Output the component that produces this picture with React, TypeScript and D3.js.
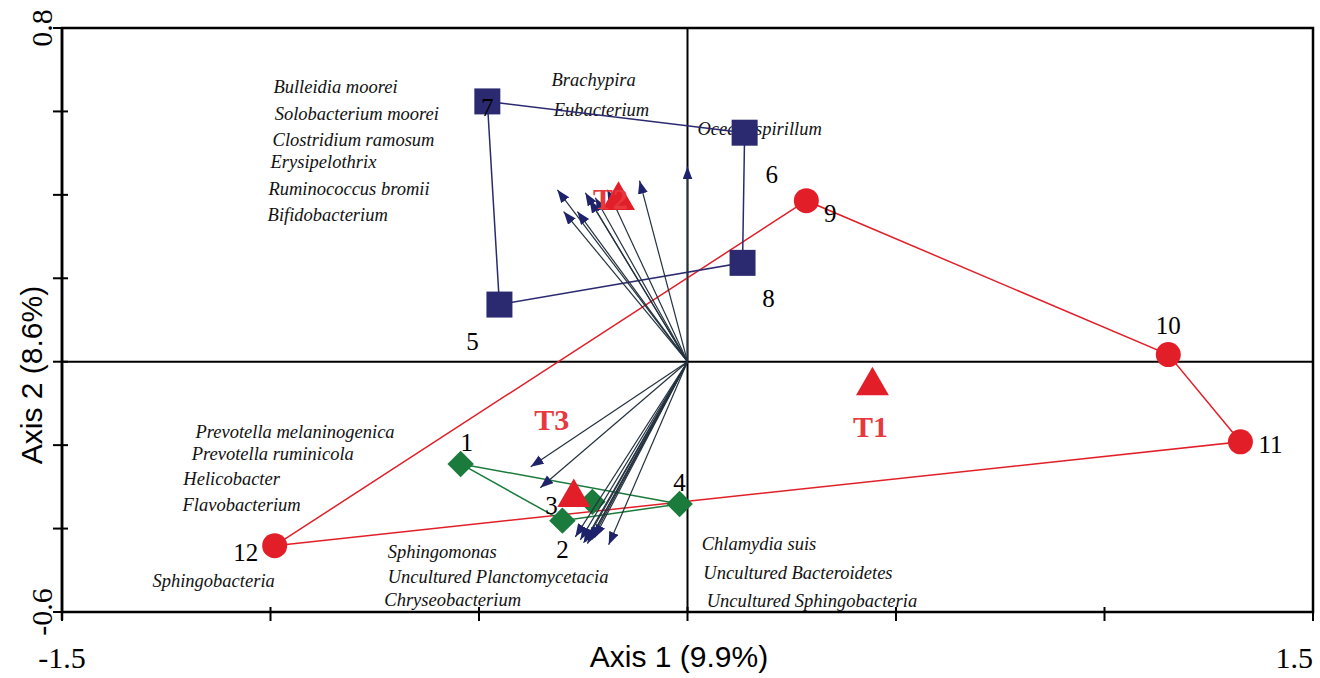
import React from "react";
import * as d3 from "d3";

// ---------- data ----------
const sampleIds = ["1", "2", "3", "4", "5", "6", "7", "8", "9", "10", "11", "12"];
const sampleX = [-0.544, -0.3, -0.228, -0.019, -0.451, 0.137, -0.48, 0.132, 0.285, 1.153, 1.326, -0.99];
const sampleY = [-0.245, -0.381, -0.336, -0.341, 0.137, 0.549, 0.624, 0.237, 0.386, 0.017, -0.192, -0.441];
const sampleGroup = ["T3", "T3", "T3", "T3", "T2", "T2", "T2", "T2", "T1", "T1", "T1", "T1"];
const groups = ["T1", "T2", "T3"];

// species vectors (biplot arrows)
const arrowX = [-0.312, -0.297, -0.264, -0.245, -0.235, -0.221, -0.192, -0.115, 0.0,
  -0.376, -0.353, -0.269, -0.257, -0.249, -0.245, -0.24, -0.235, -0.23, -0.223, -0.189];
const arrowY = [0.412, 0.36, 0.36, 0.405, 0.388, 0.393, 0.412, 0.434, 0.468,
  -0.252, -0.302, -0.42, -0.427, -0.434, -0.432, -0.436, -0.429, -0.427, -0.422, -0.439];

const speciesNames = [
  "Bulleidia moorei", "Solobacterium moorei", "Clostridium ramosum", "Erysipelothrix",
  "Ruminococcus bromii", "Bifidobacterium", "Brachypira", "Eubacterium", "Oceanospirillum",
  "Prevotella melaninogenica", "Prevotella ruminicola", "Helicobacter", "Flavobacterium",
  "Sphingobacteria", "Sphingomonas", "Uncultured Planctomycetacia", "Chryseobacterium",
  "Chlamydia suis", "Uncultured Bacteroidetes", "Uncultured Sphingobacteria",
];
// label anchor positions (in axis units)
const speciesLabelX = [-0.993, -0.99, -0.995, -1.0, -1.005, -1.007, -0.326, -0.321, 0.024,
  -1.18, -1.189, -1.209, -1.211, -1.283, -0.719, -0.719, -0.727, 0.034, 0.038, 0.046];
const speciesLabelY = [0.645, 0.58, 0.516, 0.465, 0.4, 0.338, 0.66, 0.588, 0.544,
  -0.182, -0.235, -0.295, -0.357, -0.54, -0.47, -0.53, -0.585, -0.451, -0.52, -0.588];

const xTicks = [-1.5, -1, -0.5, 0, 0.5, 1, 1.5];
const yTicks = [-0.6, -0.4, -0.2, 0, 0.2, 0.4, 0.6, 0.8];
const xAxisTitle = "Axis 1 (9.9%)";
const yAxisTitle = "Axis 2 (8.6%)";

// ---------- layout / style ----------
const W = 1320, H = 678;
const PL = 62, PR = 1313, PT = 28, PB = 612;
const NAVY = "#2b2a70";
const RED = "#e21f28";
const GREEN = "#1a7b3c";
const ARROW_LINE = "#24323f";
const ARROW_HEAD = "#1f236b";
const SERIF = "'Liberation Serif', 'Times New Roman', serif";
const SANS = "'Liberation Sans', Arial, sans-serif";

const groupColor: Record<string, string> = { T1: RED, T2: NAVY, T3: GREEN };
const groupShape: Record<string, string> = { T1: "circle", T2: "square", T3: "diamond" };
// number-label offsets in px (dx, baseline dy)
const numOffset: Record<string, [number, number]> = {
  "1": [6, -13], "2": [0, 37], "3": [-41, 12], "4": [0, -13],
  "5": [-27, 45], "6": [27, 50], "7": [0, 15], "8": [26, 44],
  "9": [24, 21], "10": [0, -21], "11": [30, 11], "12": [-29, 15],
};
const tLabelOffset: Record<string, [number, number]> = { T1: [-2, 51], T2: [-8, 9], T3: [-22, -68] };

export default function App() {
  const x = d3.scaleLinear().domain([-1.5, 1.5]).range([PL, PR]);
  const y = d3.scaleLinear().domain([-0.6, 0.8]).range([PB, PT]);

  const pts = sampleIds.map((id, i) => ({ id, x: sampleX[i], y: sampleY[i], g: sampleGroup[i] }));

  const squarePath = d3.symbol(d3.symbolSquare, 676)()!;
  const diamondPath = d3.symbol(d3.symbolSquare, 350)()!;
  const trianglePath = d3.symbol(d3.symbolTriangle, 470)()!;

  const hulls = groups.map((g) => {
    const p = pts.filter((d) => d.g === g).map((d) => [x(d.x), y(d.y)] as [number, number]);
    const hull = d3.polygonHull(p)!;
    return { g, d: "M" + hull.map((q) => q.join(",")).join("L") + "Z" };
  });

  const centroids = groups.map((g) => {
    const sel = pts.filter((d) => d.g === g);
    return { g, x: d3.mean(sel, (d) => d.x)!, y: d3.mean(sel, (d) => d.y)! };
  });

  return (
    <svg width={W} height={H} style={{ position: "absolute", left: 0, top: 0, background: "#fff" }}>
      <defs>
        <marker id="ah" markerUnits="userSpaceOnUse" markerWidth={14} markerHeight={11}
          refX={13} refY={5} orient="auto">
          <path d="M0,0 L13,5 L0,10 Z" fill={ARROW_HEAD} />
        </marker>
      </defs>
      <rect x={0} y={0} width={W} height={H} fill="#fff" />

      {/* zero lines */}
      <line x1={x(0)} x2={x(0)} y1={PT} y2={PB} stroke="#000" strokeWidth={2} />
      <line x1={PL} x2={PR} y1={y(0)} y2={y(0)} stroke="#000" strokeWidth={2} />

      {/* frame */}
      <rect x={PL} y={PT} width={PR - PL} height={PB - PT} fill="none" stroke="#000" strokeWidth={2.5} />
      <line x1={PL} x2={PL} y1={PT} y2={PB + 8} stroke="#000" strokeWidth={2.5} />
      {xTicks.map((t) => (
        <line key={"xt" + t} x1={x(t)} x2={x(t)} y1={PB - 5} y2={PB + 9} stroke="#000" strokeWidth={2} />
      ))}
      {yTicks.map((t) => (
        <line key={"yt" + t} x1={PL - 9} x2={PL + 6} y1={y(t)} y2={y(t)} stroke="#000" strokeWidth={2} />
      ))}

      {/* tick labels */}
      <text x={x(-1.5)} y={668} textAnchor="middle" fontFamily={SERIF} fontSize={30}>-1.5</text>
      <text x={x(1.5)} y={668} textAnchor="end" fontFamily={SERIF} fontSize={30}>1.5</text>
      <text transform={`translate(52,${y(0.8)}) rotate(-90)`} textAnchor="middle" fontFamily={SERIF} fontSize={30}>0.8</text>
      <text transform={`translate(52,${y(-0.6)}) rotate(-90)`} textAnchor="middle" fontFamily={SERIF} fontSize={30}>-0.6</text>

      {/* axis titles */}
      <text x={679} y={667} textAnchor="middle" fontFamily={SANS} fontSize={30}>{xAxisTitle}</text>
      <text transform="translate(42,375) rotate(-90)" textAnchor="middle" fontFamily={SANS} fontSize={30}>{yAxisTitle}</text>

      {/* species labels */}
      {speciesNames.map((n, i) => (
        <text key={n} x={x(speciesLabelX[i])} y={y(speciesLabelY[i])} fontFamily={SERIF}
          fontStyle="italic" fontSize={18.5} fill="#111">{n}</text>
      ))}

      {/* hull polygons */}
      {hulls.map((h) => (
        <path key={h.g} d={h.d} fill="none" stroke={groupColor[h.g]} strokeWidth={1.5} />
      ))}

      {/* sample points */}
      {pts.map((p) => {
        const cx = x(p.x), cy = y(p.y);
        const shape = groupShape[p.g];
        if (shape === "circle")
          return <circle key={p.id} cx={cx} cy={cy} r={12.5} fill={groupColor[p.g]} />;
        if (shape === "square")
          return <path key={p.id} d={squarePath} transform={`translate(${cx},${cy})`} fill={groupColor[p.g]} />;
        return <path key={p.id} d={diamondPath} transform={`translate(${cx},${cy}) rotate(45)`} fill={groupColor[p.g]} />;
      })}

      {/* species arrows */}
      {arrowX.map((ax, i) => (
        <line key={"ar" + i} x1={x(0)} y1={y(0)} x2={x(ax)} y2={y(arrowY[i])}
          stroke={ARROW_LINE} strokeWidth={1.2} markerEnd="url(#ah)" />
      ))}

      {/* group centroids */}
      {centroids.map((c) => (
        <path key={"tri" + c.g} d={trianglePath} transform={`translate(${x(c.x)},${y(c.y)})`} fill={RED} />
      ))}
      {centroids.map((c) => (
        <text key={"tl" + c.g} x={x(c.x) + tLabelOffset[c.g][0]} y={y(c.y) + tLabelOffset[c.g][1]}
          textAnchor="middle" fontFamily={SERIF} fontWeight="bold" fontSize={30}
          fill="#e6393e">{c.g}</text>
      ))}

      {/* sample number labels */}
      {pts.map((p) => (
        <text key={"n" + p.id} x={x(p.x) + numOffset[p.id][0]} y={y(p.y) + numOffset[p.id][1]}
          textAnchor="middle" fontFamily={SERIF} fontSize={25} fill="#000">{p.id}</text>
      ))}
    </svg>
  );
}
